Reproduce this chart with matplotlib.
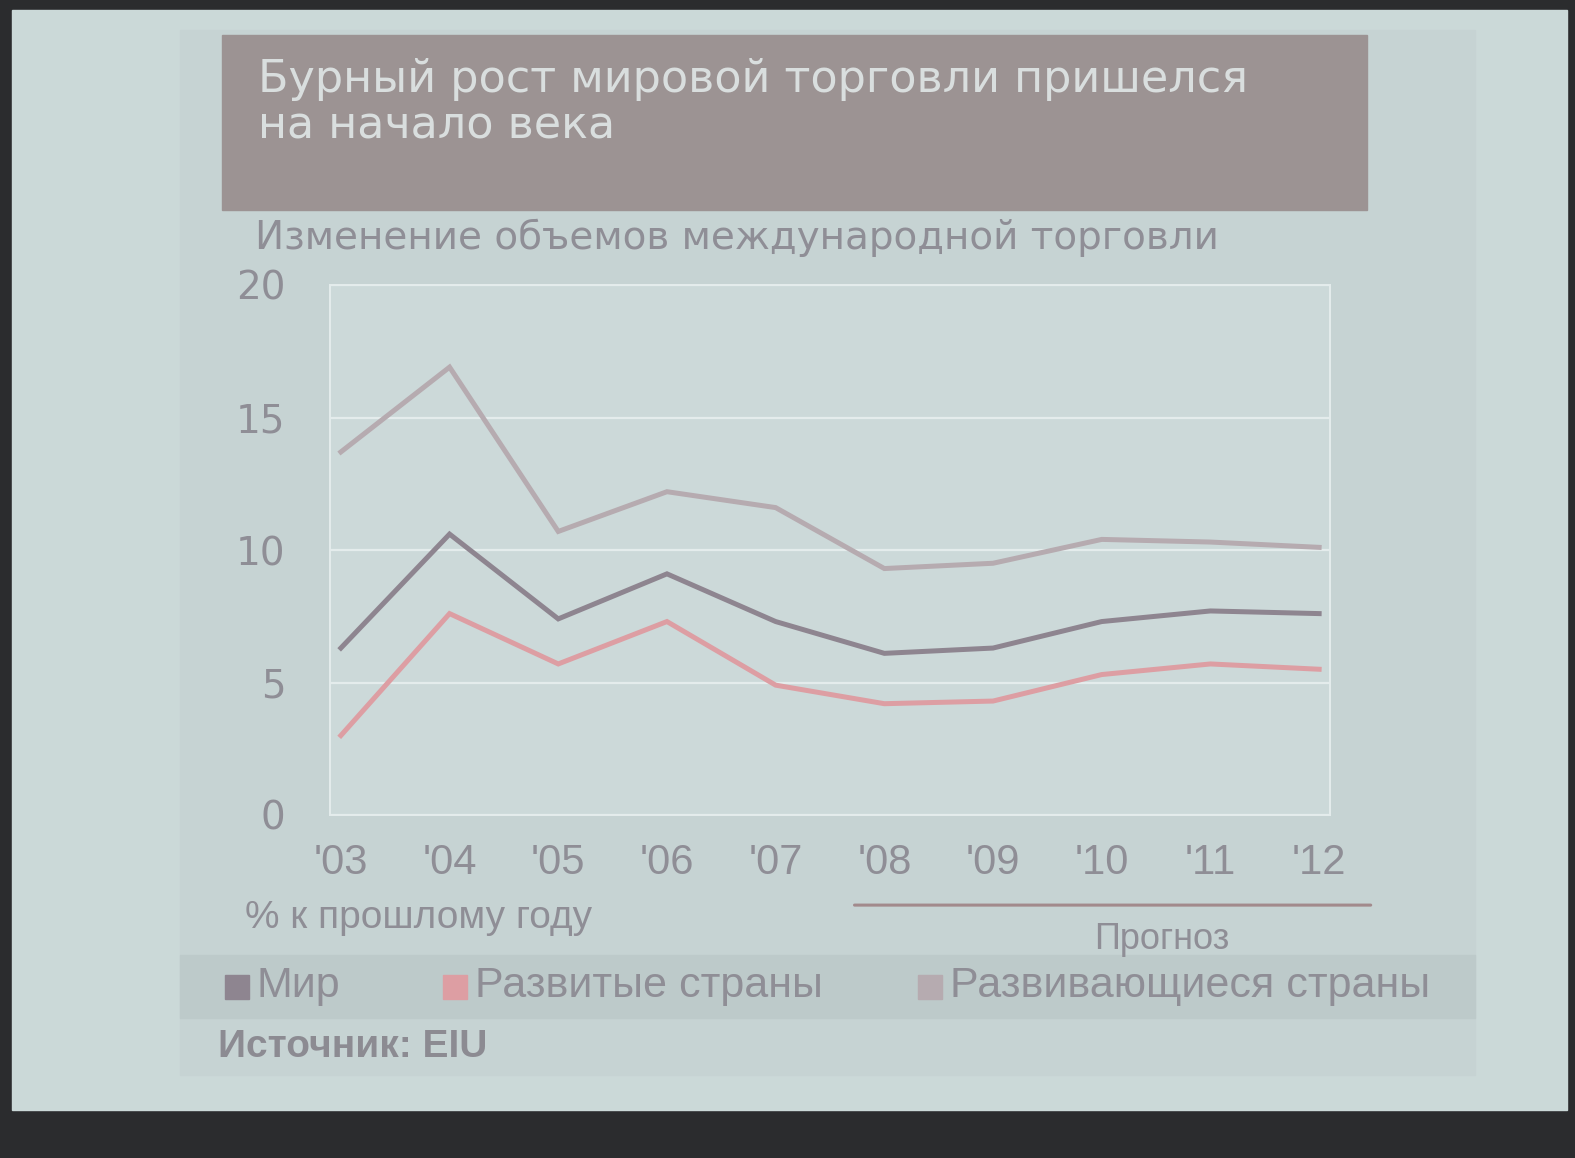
import numpy as np
import matplotlib.pyplot as plt
from matplotlib.patches import Rectangle

# data (% change vs previous year)
years = ["'03", "'04", "'05", "'06", "'07", "'08", "'09", "'10", "'11", "'12"]
world = [6.3, 10.6, 7.4, 9.1, 7.3, 6.1, 6.3, 7.3, 7.7, 7.6]
developed = [3.0, 7.6, 5.7, 7.3, 4.9, 4.2, 4.3, 5.3, 5.7, 5.5]
developing = [13.7, 16.9, 10.7, 12.2, 11.6, 9.3, 9.5, 10.4, 10.3, 10.1]
y_ticks = [0, 5, 10, 15, 20]
forecast_years = ["'08", "'12"]

series_names = ["Мир", "Развитые страны", "Развивающиеся страны"]
series_colors = ["#8e8590", "#dd9ea3", "#b6abb0"]

W, H = 1575, 1158
fig = plt.figure(figsize=(W / 100, H / 100), dpi=100)
fig.patch.set_facecolor("#2b2c2e")

def px(x0, y0, x1, y1):
    # pixel box (top-left origin) -> figure fraction rect
    return [x0 / W, 1 - y1 / H, (x1 - x0) / W, (y1 - y0) / H]

def box(x0, y0, x1, y1, color, z):
    fig.patches.append(Rectangle((x0 / W, 1 - y1 / H), (x1 - x0) / W, (y1 - y0) / H,
                                 transform=fig.transFigure, color=color, zorder=z))

# projector screen, slide, legend band, title banner
box(12, 10, 1567, 1110, "#cbd9d8", -3)
box(180, 30, 1475, 1075, "#c6d3d3", -2)
box(180, 955, 1475, 1018, "#bdcaca", -1)
box(222, 35, 1367, 210, "#9c9393", -1)

title_font = ["DejaVu Sans"]
narrow = ["Liberation Sans Narrow", "Liberation Sans", "DejaVu Sans"]

fig.text(258 / W, 1 - 58 / H, "Бурный рост мировой торговли пришелся\nна начало века",
         ha="left", va="top", fontsize=32, color="#d9dede", family=title_font,
         linespacing=1.1, zorder=2)
fig.text(255 / W, 1 - 238 / H, "Изменение объемов международной торговли",
         ha="left", va="center", fontsize=28, color="#8f8e96", family=title_font,
         zorder=2)

ax = fig.add_axes(px(330, 285, 1330, 815))
ax.set_facecolor("#ccd9d9")
x = np.arange(len(years))
ax.plot(x, developing, color=series_colors[2], lw=3.6, solid_joinstyle="miter", zorder=3)
ax.plot(x, world, color=series_colors[0], lw=3.6, solid_joinstyle="miter", zorder=3)
ax.plot(x, developed, color=series_colors[1], lw=3.6, solid_joinstyle="miter", zorder=3)

ax.set_xlim(-0.1, len(years) - 0.9)
ax.set_ylim(0, 20)
ax.set_yticks(y_ticks)
ax.set_yticklabels([str(v) for v in y_ticks], fontsize=28, color="#8f8e96",
                   family=title_font)
ax.set_xticks(x)
ax.set_xticklabels(years, fontsize=30, color="#8f8e96", family=narrow)
ax.tick_params(length=0)
ax.tick_params(axis="y", pad=32)
ax.tick_params(axis="x", pad=20)
ax.grid(axis="y", color="#e4ecec", lw=1.6)
for s in ax.spines.values():
    s.set_color("#e4ecec")
    s.set_linewidth(1.4)

fig.text(245 / W, 1 - 918 / H, "% к прошлому году", ha="left", va="center",
         fontsize=28, color="#8f8e96", family=narrow)

# forecast bracket under '08 - '12
f0 = years.index(forecast_years[0])
f1 = years.index(forecast_years[1])
ax.annotate("", xy=(f0 - 0.3, -0.17), xycoords=("data", "axes fraction"),
            xytext=(f1 + 0.5, -0.17), textcoords=("data", "axes fraction"),
            arrowprops=dict(arrowstyle="-", color="#a28a8c", lw=2.2),
            annotation_clip=False)
ax.annotate("Прогноз", xy=((f0 + f1) / 2 + 0.55, -0.235), xycoords=("data", "axes fraction"),
            ha="center", va="center", fontsize=26, color="#8f8e96", family=narrow,
            annotation_clip=False)

# legend row
leg_x = [225, 443, 918]
for name, col, lx in zip(series_names, series_colors, leg_x):
    box(lx, 975, lx + 24, 999, col, 2)
    fig.text((lx + 32) / W, 1 - 986 / H, name, ha="left", va="center",
             fontsize=31, color="#8f8e96", family=narrow, zorder=2)

fig.text(218 / W, 1 - 1047 / H, "Источник: EIU", ha="left", va="center",
         fontsize=28, color="#8c8b92", family=narrow, fontweight="bold")

fig.savefig("out.png", dpi=100, facecolor=fig.get_facecolor())
